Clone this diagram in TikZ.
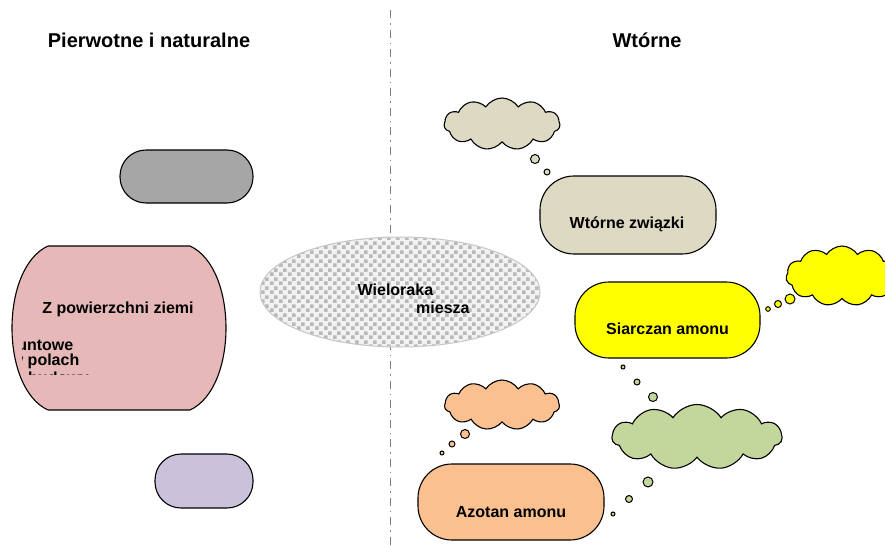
\documentclass[tikz,border=0pt]{standalone}
\usepackage{fontspec}
\setmainfont{Liberation Sans}
\usetikzlibrary{shapes.symbols, shapes.geometric, patterns}

\definecolor{boxgray}{HTML}{A6A6A6}
\definecolor{boxpink}{HTML}{E6B9B8}
\definecolor{boxtan}{HTML}{DDD9C3}
\definecolor{boxyellow}{HTML}{FFFF00}
\definecolor{boxgreen}{HTML}{C3D69B}
\definecolor{boxorange}{HTML}{FAC090}
\definecolor{boxpurple}{HTML}{CCC1DA}

\pgfdeclarepatternformonly{graysquares}{\pgfpointorigin}{\pgfqpoint{9pt}{9pt}}{\pgfqpoint{9pt}{9pt}}{%
    \pgfpathrectangle{\pgfqpoint{0pt}{0pt}}{\pgfqpoint{4pt}{4pt}}%
    \pgfpathrectangle{\pgfqpoint{4.5pt}{4.5pt}}{\pgfqpoint{4pt}{4pt}}%
    \pgfusepath{fill}}

\begin{document}
\begin{tikzpicture}[x = 1pt, y = -1pt,
        stadium/.style = {draw, line width = 1.1pt, rectangle, rounded corners = #1},
        bubble/.style = {draw, line width = 1.1pt, cloud, cloud puffs = 11, cloud puff arc = 115, cloud ignores aspect},
        headtext/.style = {font = \bfseries\fontsize{20}{24}\selectfont},
        boxtext/.style = {font = \bfseries\fontsize{16}{19}\selectfont}]

        \useasboundingbox (0, 0) rectangle (885, 546);
        \clip (0, 0) rectangle (885, 546);

        % Divider
        \draw [gray, line width = 0.9pt, dash pattern = on 8pt off 5pt on 1.5pt off 5pt] (390, 10) -- (390, 546);

        % Titles
        \node (left) [headtext, anchor = base] at (149, 47) {Pierwotne i naturalne};
        \node (right) [headtext, anchor = base] at (647, 47) {Wtórne};

        % Left column
        \node (grey) [stadium = 26pt, fill = boxgray, minimum width = 133, minimum height = 53] at (186.5, 176.5) {};
        \node (purple) [stadium = 26pt, fill = boxpurple, minimum width = 98, minimum height = 54] at (204, 481) {};

        %% Pink barrel
        \draw [line width = 1.1pt, fill = boxpink] (48, 246) -- (190, 246)
            .. controls (238, 268) and (238, 388) .. (190, 410) -- (48, 410)
            .. controls (0, 388) and (0, 268) .. (48, 246);
        \node (ziemi) [boxtext, anchor = base] at (118, 313) {Z powierzchni ziemi};
        \begin{scope}
            \clip (22, 330) rectangle (140, 374);
            \node (gruntowe) [boxtext, anchor = base east, inner sep = 0] at (73.5, 350) {gruntowe};
            \node (polach) [boxtext, anchor = base east, inner sep = 0] at (79.5, 365) {w polach};
            \node (budowy) [boxtext, anchor = base west, inner sep = 0] at (28, 383) {budowy};
        \end{scope}

        % Mixture
        \node (mix) [ellipse, draw = gray!45, line width = 1pt, fill = gray!10, minimum width = 280, minimum height = 110] at (400, 292) {};
        \fill [pattern = graysquares, pattern color = gray!55] (400, 292) ellipse [x radius = 139.5, y radius = 54.5];
        \node (wiel) [boxtext, anchor = base west, inner sep = 0] at (357.5, 295) {Wieloraka};
        \node (miesz) [boxtext, anchor = base west, inner sep = 0] at (416, 313) {miesza};

        % Right column
        \node (wz) [stadium = 34pt, fill = boxtan, minimum width = 176, minimum height = 78] at (628, 215) {};
        \node (wzt) [boxtext, anchor = base] at (627, 228) {Wtórne związki};

        \node (sa) [stadium = 34pt, fill = boxyellow, minimum width = 185, minimum height = 76] at (667.5, 320) {};
        \node (sat) [boxtext, anchor = base] at (667.5, 334) {Siarczan amonu};

        \node (aa) [stadium = 34pt, fill = boxorange, minimum width = 186, minimum height = 76] at (511, 502) {};
        \node (aat) [boxtext, anchor = base] at (511, 517) {Azotan amonu};

        %% Clouds
        \node (c1) [bubble, fill = boxtan, minimum width = 116, minimum height = 52] at (502, 124) {};
        \node (c2) [bubble, fill = boxyellow, minimum width = 112, minimum height = 60] at (842, 276) {};
        \node (c3) [bubble, fill = boxgreen, minimum width = 170, minimum height = 65] at (697, 437) {};
        \node (c4) [bubble, fill = boxorange, minimum width = 115, minimum height = 50] at (502, 405) {};

        %% Thought dots
        \draw [line width = 1pt, fill = boxtan] (535, 159) circle (4.5) (547, 172) circle (3);
        \draw [line width = 1pt, fill = boxyellow] (790, 299) circle (5) (778, 304) circle (3.5) (768, 309) circle (2.3);
        \draw [line width = 1pt, fill = boxgreen] (623, 367) circle (2) (637, 382) circle (3) (653, 397) circle (4.5)
            (648, 482) circle (5) (629, 499) circle (3.5) (613, 514) circle (2);
        \draw [line width = 1pt, fill = boxorange] (465, 434) circle (4.5) (452, 444) circle (3) (442, 453) circle (2);

    \end{tikzpicture}
\end{document}
